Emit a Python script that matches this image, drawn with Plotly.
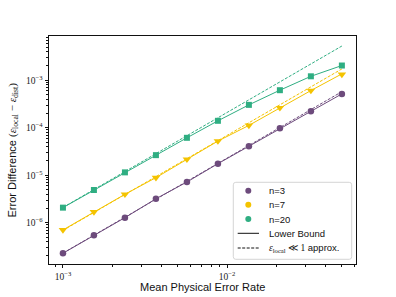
import plotly.graph_objects as go

# ---------------- data ----------------
p_rate = [0.001, 0.001544, 0.002385, 0.003684, 0.005690,
          0.008788, 0.01357, 0.02096, 0.03237, 0.05]

sim_n3 = [2.28e-7, 5.46e-7, 1.28e-6, 3.2e-6, 7.2e-6,
          1.75e-5, 4.1e-5, 9.8e-5, 2.23e-4, 5.16e-4]
sim_n7 = [7.06e-7, 1.69e-6, 3.97e-6, 8.9e-6, 2.16e-5,
          5.24e-5, 1.12e-4, 2.62e-4, 6.06e-4, 1.32e-3]
sim_n20 = [2.08e-6, 4.89e-6, 1.15e-5, 2.65e-5, 6.14e-5,
           1.40e-4, 3.03e-4, 6.17e-4, 1.21e-3, 2.04e-3]

bound_n3 = [2.28e-7, 5.46e-7, 1.28e-6, 3.2e-6, 7.2e-6,
            1.75e-5, 4.1e-5, 9.8e-5, 2.23e-4, 5.16e-4]
bound_n7 = [7.06e-7, 1.69e-6, 3.97e-6, 8.9e-6, 2.16e-5,
            5.24e-5, 1.12e-4, 2.62e-4, 6.06e-4, 1.36e-3]
bound_n20 = [2.08e-6, 4.89e-6, 1.15e-5, 2.65e-5, 6.14e-5,
             1.40e-4, 3.03e-4, 6.17e-4, 1.21e-3, 2.04e-3]

approx_n3 = [2.3e-7, 5.49e-7, 1.31e-6, 3.12e-6, 7.44e-6,
             1.78e-5, 4.24e-5, 1.01e-4, 2.41e-4, 5.75e-4]
approx_n7 = [6.9e-7, 1.65e-6, 3.93e-6, 9.36e-6, 2.23e-5,
             5.33e-5, 1.27e-4, 3.03e-4, 7.23e-4, 1.73e-3]
approx_n20 = [2.1e-6, 5.0e-6, 1.19e-5, 2.85e-5, 6.8e-5,
              1.62e-4, 3.87e-4, 9.23e-4, 2.2e-3, 5.25e-3]

series_names = ["n=3", "n=7", "n=20"]
x_tick_vals = [1e-3, 1e-2]
x_tick_text = ["10<sup>−3</sup>", "10<sup>−2</sup>"]
y_tick_vals = [1e-6, 1e-5, 1e-4, 1e-3]
y_tick_text = ["10<sup>−6</sup>", "10<sup>−5</sup>", "10<sup>−4</sup>", "10<sup>−3</sup>"]

# ---------------- style ----------------
colors = ["#6d4b7c", "#f4c300", "#2fae82"]
symbols = ["circle", "triangle-down", "square"]
msizes = [6.5, 7.5, 6]
SANS = "Liberation Sans"
SERIF = "Liberation Serif"

W, H = 396, 297
L, R, T, B = 49, 40, 36, 33
PW, PH = W - L - R, H - T - B


def px2x(px):
    return (px - L) / PW


def py2y(py):
    return (H - B - py) / PH


fig = go.Figure()
sims = [sim_n3, sim_n7, sim_n20]
bounds = [bound_n3, bound_n7, bound_n20]
approxs = [approx_n3, approx_n7, approx_n20]

for i in range(3):
    fig.add_trace(go.Scatter(x=p_rate, y=approxs[i], mode="lines",
                             line=dict(color=colors[i], width=1, dash="3px,1.5px"),
                             showlegend=False, hoverinfo="skip"))
    fig.add_trace(go.Scatter(x=p_rate, y=bounds[i], mode="lines",
                             line=dict(color=colors[i], width=1),
                             showlegend=False, hoverinfo="skip"))
for i in range(3):
    fig.add_trace(go.Scatter(x=p_rate, y=sims[i], mode="markers",
                             marker=dict(color=colors[i], symbol=symbols[i], size=msizes[i],
                                         line=dict(width=0)),
                             name=series_names[i], showlegend=False))

x_minor = [k * 1e-4 for k in [9]] + [k * 1e-3 for k in range(2, 10)] + [k * 1e-2 for k in range(2, 7)]
y_minor = []
for e in [-7, -6, -5, -4, -3]:
    for k in range(2, 10):
        y_minor.append(k * 10 ** e)

axis_common = dict(type="log", showgrid=False, zeroline=False, showline=True,
                   linecolor="#111", linewidth=0.9, mirror=True,
                   ticks="outside", ticklen=3.5, tickwidth=0.8, tickcolor="#111",
                   tickfont=dict(family=SERIF, size=9.5, color="#222"))

fig.update_xaxes(range=[-3.085, -1.215], tickvals=x_tick_vals, ticktext=x_tick_text,
                 minor=dict(ticks="outside", ticklen=2, tickwidth=0.6, tickcolor="#111",
                            tickvals=x_minor),
                 **axis_common)
fig.update_yaxes(range=[-6.868, -2.069], tickvals=y_tick_vals, ticktext=y_tick_text,
                 minor=dict(ticks="outside", ticklen=2, tickwidth=0.6, tickcolor="#111",
                            tickvals=y_minor),
                 **axis_common)

shapes = []
annotations = []

# axis titles
annotations.append(dict(text="Mean Physical Error Rate", xref="paper", yref="paper",
                        x=px2x(202.5), y=py2y(286.5), xanchor="center", yanchor="middle",
                        showarrow=False, font=dict(family=SANS, size=11, color="#111")))
annotations.append(dict(
    text=('Error Difference <span style="font-family:%s">(<i>ε</i><sub>local</sub> − '
          '<i>ε</i><sub>dist</sub>)</span>' % SERIF),
    xref="paper", yref="paper", x=px2x(12.5), y=py2y(150), xanchor="center", yanchor="middle",
    textangle=-90, showarrow=False, font=dict(family=SANS, size=11, color="#111")))

# custom legend box
bx0, bx1, by0, by1 = px2x(233.3), px2x(351.7), py2y(259.3), py2y(182.3)
rx, ry = 2.5 / PW, 2.5 / PH
path = (f"M {bx0+rx},{by0} L {bx1-rx},{by0} Q {bx1},{by0} {bx1},{by0+ry} "
        f"L {bx1},{by1-ry} Q {bx1},{by1} {bx1-rx},{by1} L {bx0+rx},{by1} "
        f"Q {bx0},{by1} {bx0},{by1-ry} L {bx0},{by0+ry} Q {bx0},{by0} {bx0+rx},{by0} Z")
shapes.append(dict(type="path", path=path, xref="paper", yref="paper",
                   fillcolor="rgba(255,255,255,0.85)", line=dict(color="#d0d0d0", width=0.9),
                   layer="above"))

entry_y = [190.7, 204.8, 219.0, 233.3, 248.0]
marker_cx = 248.3
text_x = 266.5
r = 3.0
for i in range(3):
    cy = entry_y[i]
    shapes.append(dict(type="circle", xref="paper", yref="paper",
                       x0=px2x(marker_cx - r), x1=px2x(marker_cx + r),
                       y0=py2y(cy + r), y1=py2y(cy - r),
                       fillcolor=colors[i], line=dict(width=0), layer="above"))
    annotations.append(dict(text=series_names[i], xref="paper", yref="paper",
                            x=px2x(text_x), y=py2y(cy), xanchor="left", yanchor="middle",
                            showarrow=False, font=dict(family=SANS, size=9.5, color="#111")))

shapes.append(dict(type="line", xref="paper", yref="paper",
                   x0=px2x(237.7), x1=px2x(259.0), y0=py2y(entry_y[3]), y1=py2y(entry_y[3]),
                   line=dict(color="#111", width=1), layer="above"))
shapes.append(dict(type="line", xref="paper", yref="paper",
                   x0=px2x(237.7), x1=px2x(259.0), y0=py2y(entry_y[4]), y1=py2y(entry_y[4]),
                   line=dict(color="#111", width=1, dash="3px,1.5px"), layer="above"))
annotations.append(dict(text="Lower Bound", xref="paper", yref="paper",
                        x=px2x(text_x), y=py2y(entry_y[3]), xanchor="left", yanchor="middle",
                        showarrow=False, font=dict(family=SANS, size=9.5, color="#111")))
annotations.append(dict(
    text=('<span style="font-family:%s"><i>ε</i><sub>local</sub> ≪ 1</span> approx.' % SERIF),
    xref="paper", yref="paper", x=px2x(text_x), y=py2y(entry_y[4]), xanchor="left",
    yanchor="middle", showarrow=False, font=dict(family=SANS, size=9.5, color="#111")))

fig.update_layout(width=W, height=H, margin=dict(l=L, r=R, t=T, b=B, pad=0),
                  paper_bgcolor="white", plot_bgcolor="white", showlegend=False,
                  shapes=shapes, annotations=annotations)

fig.write_html("out.html", config={"displayModeBar": False},
               post_script="document.body.style.margin='0';document.body.style.padding='0';")
